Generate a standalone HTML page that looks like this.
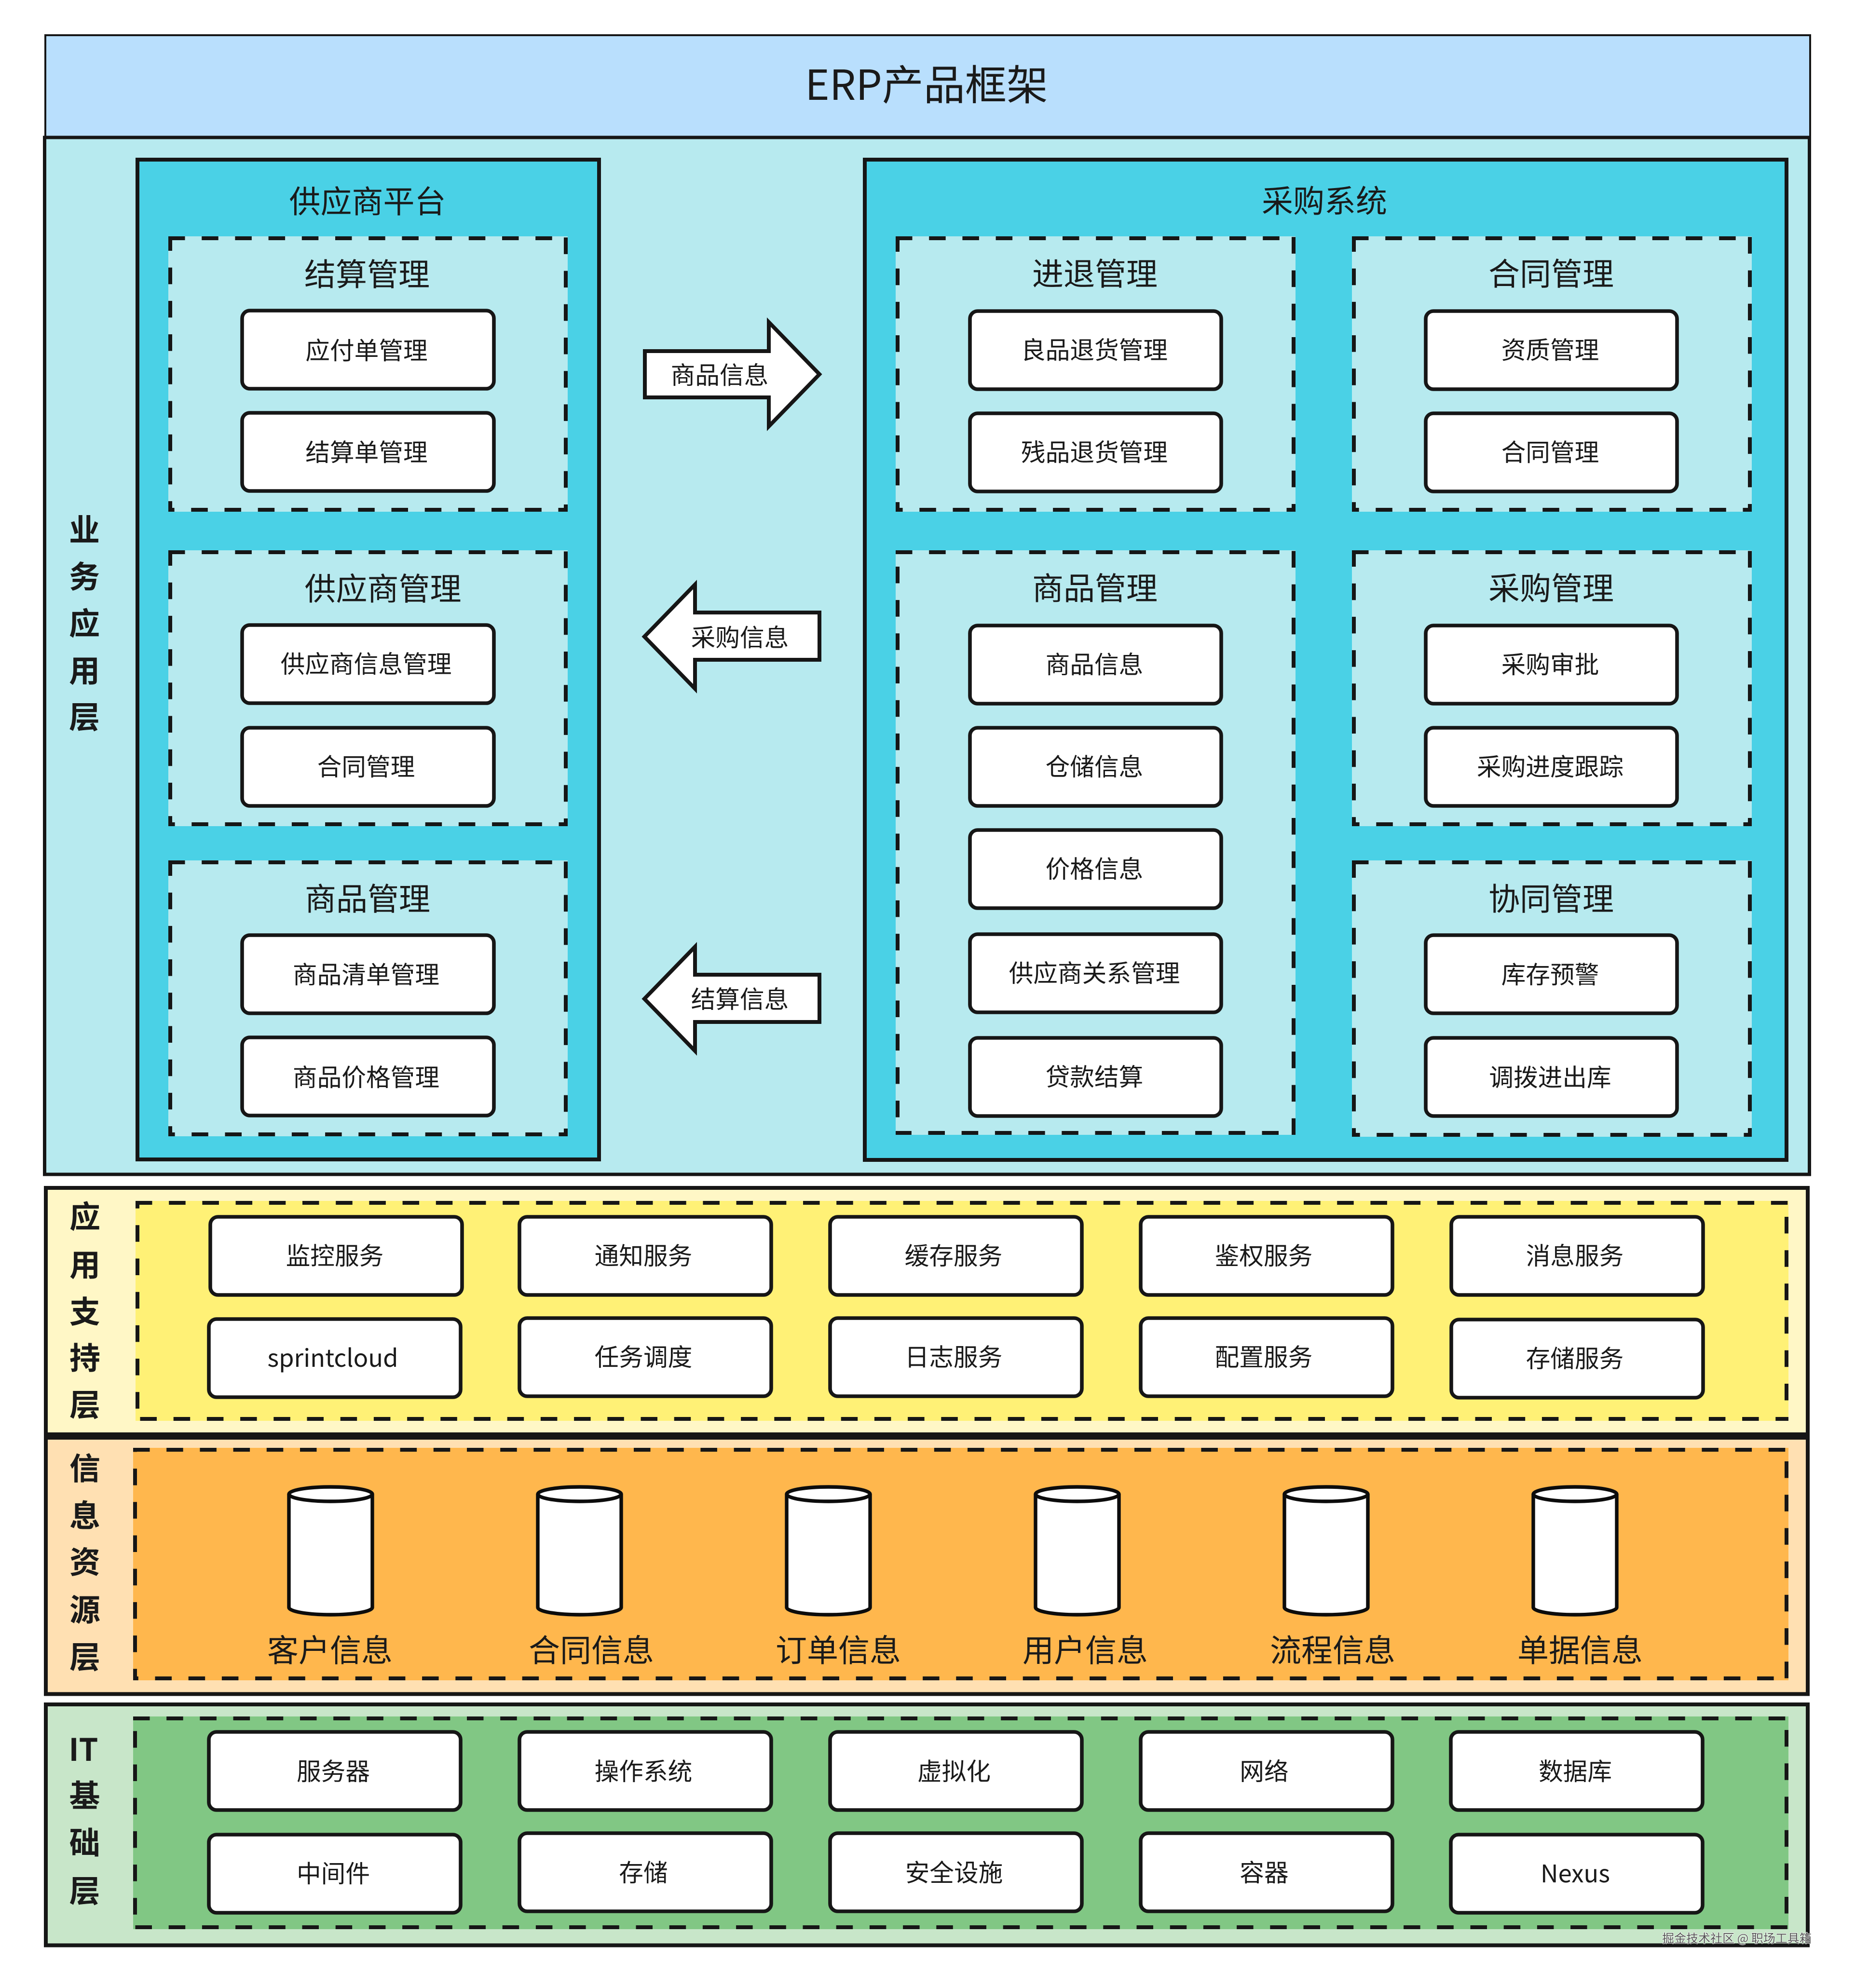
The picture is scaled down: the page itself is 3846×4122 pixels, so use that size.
<!DOCTYPE html>
<html lang="zh">
<head>
<meta charset="utf-8">
<title>ERP产品框架</title>
<style>
html,body{margin:0;padding:0;background:#fff;width:3846px;height:4122px;overflow:hidden}
svg{display:block}
text{font-family:"Noto Sans CJK SC","Liberation Sans",sans-serif;fill:#1a1a1a;text-anchor:middle}
.s{font-size:50.7px}
.m{font-size:65px}
.v{font-size:64px;font-weight:700}
.box{fill:#fff;stroke:#161616;stroke-width:7.6}
.dash{fill:none;stroke:#161616;stroke-width:16;stroke-dasharray:34.5 34.7}
</style>
</head>
<body>
<svg xmlns="http://www.w3.org/2000/svg" width="3846" height="4122" viewBox="0 0 3846 4122">
<defs>
<g id="cyl">
<path d="M599,3098 A86.5,15 0 0 1 772,3098 V3333 A86.5,15 0 0 1 599,3333 Z" fill="#fff" stroke="#0c0c0c" stroke-width="7.4"/>
<path d="M599,3098 A86.5,15 0 0 0 772,3098" fill="none" stroke="#0c0c0c" stroke-width="7.4"/>
</g>
<clipPath id="c1"><rect x="349" y="490" width="828" height="571"/></clipPath>
<clipPath id="c2"><rect x="349" y="1141" width="828" height="572"/></clipPath>
<clipPath id="c3"><rect x="349" y="1784" width="828" height="572"/></clipPath>
<clipPath id="c4"><rect x="1857" y="490" width="829" height="571"/></clipPath>
<clipPath id="c5"><rect x="2803" y="490" width="829" height="571"/></clipPath>
<clipPath id="c6"><rect x="1857" y="1141" width="829" height="1212"/></clipPath>
<clipPath id="c7"><rect x="2803" y="1141" width="829" height="572"/></clipPath>
<clipPath id="c8"><rect x="2803" y="1784" width="829" height="573"/></clipPath>
<clipPath id="c9"><rect x="281" y="2490" width="3427" height="456"/></clipPath>
<clipPath id="c10"><rect x="276" y="3002" width="3432" height="482"/></clipPath>
<clipPath id="c11"><rect x="276" y="3559" width="3432" height="441"/></clipPath>
</defs>

<!-- Title -->
<rect x="94" y="73" width="3659" height="212" fill="#b9dffd" stroke="#161616" stroke-width="4"/>
<text x="1921" y="207" font-size="86">ERP产品框架</text>

<!-- Business layer -->
<rect x="92.5" y="285" width="3659" height="2150" fill="#b7eaef" stroke="#161616" stroke-width="7"/>
<text class="v" x="175" y="1122">业</text>
<text class="v" x="175" y="1219">务</text>
<text class="v" x="175" y="1316">应</text>
<text class="v" x="175" y="1414">用</text>
<text class="v" x="175" y="1510">层</text>

<!-- Supplier platform -->
<rect x="285" y="331" width="957" height="2073" fill="#4ad1e6" stroke="#161616" stroke-width="8"/>
<text class="m" x="762" y="441">供应商平台</text>

<rect x="349" y="490" width="828" height="571" fill="#b7eaef"/>
<rect class="dash" clip-path="url(#c1)" x="349" y="490" width="828" height="571"/>
<text class="m" x="761" y="592">结算管理</text>
<rect class="box" x="502" y="644" width="522" height="162" rx="16"/>
<text class="s" x="760" y="745">应付单管理</text>
<rect class="box" x="502" y="856" width="522" height="162" rx="16"/>
<text class="s" x="760" y="956">结算单管理</text>

<rect x="349" y="1141" width="828" height="572" fill="#b7eaef"/>
<rect class="dash" clip-path="url(#c2)" x="349" y="1141" width="828" height="572"/>
<text class="m" x="794" y="1244">供应商管理</text>
<rect class="box" x="502" y="1296" width="522" height="162" rx="16"/>
<text class="s" x="759" y="1395">供应商信息管理</text>
<rect class="box" x="502" y="1509" width="522" height="162" rx="16"/>
<text class="s" x="759" y="1608">合同管理</text>

<rect x="349" y="1784" width="828" height="572" fill="#b7eaef"/>
<rect class="dash" clip-path="url(#c3)" x="349" y="1784" width="828" height="572"/>
<text class="m" x="762" y="1887">商品管理</text>
<rect class="box" x="502" y="1939" width="522" height="162" rx="16"/>
<text class="s" x="759" y="2039">商品清单管理</text>
<rect class="box" x="502" y="2151" width="522" height="162" rx="16"/>
<text class="s" x="759" y="2252">商品价格管理</text>

<!-- Arrows -->
<polygon points="1337,728 1594,728 1594,668 1699,776 1594,884 1594,824 1337,824" fill="#fff" stroke="#161616" stroke-width="8"/>
<text class="s" x="1492" y="796">商品信息</text>
<polygon points="1336,1320 1441,1212 1441,1270 1699,1270 1699,1368 1441,1368 1441,1428" fill="#fff" stroke="#161616" stroke-width="8"/>
<text class="s" x="1534" y="1340">采购信息</text>
<polygon points="1336,2071 1441,1963 1441,2021 1699,2021 1699,2119 1441,2119 1441,2179" fill="#fff" stroke="#161616" stroke-width="8"/>
<text class="s" x="1534" y="2090">结算信息</text>

<!-- Purchase system -->
<rect x="1793" y="331" width="1911" height="2074" fill="#4ad1e6" stroke="#161616" stroke-width="8"/>
<text class="m" x="2746" y="440">采购系统</text>

<rect x="1857" y="490" width="829" height="571" fill="#b7eaef"/>
<rect class="dash" clip-path="url(#c4)" x="1857" y="490" width="829" height="571"/>
<text class="m" x="2270" y="591">进退管理</text>
<rect class="box" x="2011" y="645" width="521" height="162" rx="16"/>
<text class="s" x="2269" y="744">良品退货管理</text>
<rect class="box" x="2011" y="857" width="521" height="162" rx="16"/>
<text class="s" x="2269" y="956">残品退货管理</text>

<rect x="2803" y="490" width="829" height="571" fill="#b7eaef"/>
<rect class="dash" clip-path="url(#c5)" x="2803" y="490" width="829" height="571"/>
<text class="m" x="3216" y="591">合同管理</text>
<rect class="box" x="2956" y="645" width="521" height="162" rx="16"/>
<text class="s" x="3214" y="744">资质管理</text>
<rect class="box" x="2956" y="857" width="521" height="162" rx="16"/>
<text class="s" x="3214" y="956">合同管理</text>

<rect x="1857" y="1141" width="829" height="1212" fill="#b7eaef"/>
<rect class="dash" clip-path="url(#c6)" x="1857" y="1141" width="829" height="1212"/>
<text class="m" x="2270" y="1243">商品管理</text>
<rect class="box" x="2011" y="1297" width="521" height="162" rx="16"/>
<text class="s" x="2269" y="1396">商品信息</text>
<rect class="box" x="2011" y="1509" width="521" height="162" rx="16"/>
<text class="s" x="2269" y="1608">仓储信息</text>
<rect class="box" x="2011" y="1721" width="521" height="162" rx="16"/>
<text class="s" x="2269" y="1820">价格信息</text>
<rect class="box" x="2011" y="1937" width="521" height="162" rx="16"/>
<text class="s" x="2269" y="2036">供应商关系管理</text>
<rect class="box" x="2011" y="2152" width="521" height="162" rx="16"/>
<text class="s" x="2269" y="2251">贷款结算</text>

<rect x="2803" y="1141" width="829" height="572" fill="#b7eaef"/>
<rect class="dash" clip-path="url(#c7)" x="2803" y="1141" width="829" height="572"/>
<text class="m" x="3216" y="1243">采购管理</text>
<rect class="box" x="2956" y="1297" width="521" height="162" rx="16"/>
<text class="s" x="3214" y="1396">采购审批</text>
<rect class="box" x="2956" y="1509" width="521" height="162" rx="16"/>
<text class="s" x="3214" y="1608">采购进度跟踪</text>

<rect x="2803" y="1784" width="829" height="573" fill="#b7eaef"/>
<rect class="dash" clip-path="url(#c8)" x="2803" y="1784" width="829" height="573"/>
<text class="m" x="3216" y="1887">协同管理</text>
<rect class="box" x="2956" y="1939" width="521" height="162" rx="16"/>
<text class="s" x="3214" y="2039">库存预警</text>
<rect class="box" x="2956" y="2152" width="521" height="162" rx="16"/>
<text class="s" x="3214" y="2252">调拨进出库</text>

<!-- App support layer -->
<rect x="95" y="2463" width="3653" height="511" fill="#fff7c6" stroke="#161616" stroke-width="8"/>
<text class="v" x="176" y="2546">应</text>
<text class="v" x="176" y="2646">用</text>
<text class="v" x="176" y="2743">支</text>
<text class="v" x="176" y="2839">持</text>
<text class="v" x="176" y="2936">层</text>
<rect x="281" y="2490" width="3427" height="456" fill="#fff176"/>
<rect class="dash" clip-path="url(#c9)" x="281" y="2490" width="3427" height="456"/>

<rect class="box" x="436" y="2523" width="522" height="162" rx="16"/>
<text class="s" x="694" y="2622">监控服务</text>
<rect class="box" x="1077" y="2523" width="522" height="162" rx="16"/>
<text class="s" x="1334" y="2622">通知服务</text>
<rect class="box" x="1721" y="2523" width="522" height="162" rx="16"/>
<text class="s" x="1977" y="2622">缓存服务</text>
<rect class="box" x="2365" y="2523" width="522" height="162" rx="16"/>
<text class="s" x="2620" y="2622">鉴权服务</text>
<rect class="box" x="3009" y="2523" width="522" height="162" rx="16"/>
<text class="s" x="3265" y="2622">消息服务</text>

<rect class="box" x="433" y="2735" width="522" height="162" rx="16"/>
<text class="s" x="690" y="2834">sprintcloud</text>
<rect class="box" x="1077" y="2733" width="522" height="162" rx="16"/>
<text class="s" x="1334" y="2832">任务调度</text>
<rect class="box" x="1721" y="2733" width="522" height="162" rx="16"/>
<text class="s" x="1977" y="2832">日志服务</text>
<rect class="box" x="2365" y="2733" width="522" height="162" rx="16"/>
<text class="s" x="2620" y="2832">配置服务</text>
<rect class="box" x="3009" y="2736" width="522" height="162" rx="16"/>
<text class="s" x="3265" y="2835">存储服务</text>

<!-- Info resource layer -->
<rect x="95" y="2981" width="3653" height="531.5" fill="#ffe0b2" stroke="#161616" stroke-width="8"/>
<text class="v" x="176" y="3068">信</text>
<text class="v" x="176" y="3166">息</text>
<text class="v" x="176" y="3262">资</text>
<text class="v" x="176" y="3361">源</text>
<text class="v" x="176" y="3459">层</text>
<rect x="276" y="3002" width="3432" height="482" fill="#ffb74d"/>
<rect class="dash" clip-path="url(#c10)" x="276" y="3002" width="3432" height="482"/>
<use href="#cyl"/>
<use href="#cyl" x="516"/>
<use href="#cyl" x="1032"/>
<use href="#cyl" x="1548"/>
<use href="#cyl" x="2064"/>
<use href="#cyl" x="2580"/>
<text class="m" x="684" y="3445">客户信息</text>
<text class="m" x="1226" y="3445">合同信息</text>
<text class="m" x="1738" y="3445">订单信息</text>
<text class="m" x="2250" y="3445">用户信息</text>
<text class="m" x="2763" y="3445">流程信息</text>
<text class="m" x="3276" y="3445">单据信息</text>

<!-- IT layer -->
<rect x="95" y="3534" width="3653" height="499.5" fill="#c8e6c9" stroke="#161616" stroke-width="8"/>
<text class="v" x="173" y="3651">IT</text>
<text class="v" x="175.5" y="3746.5">基</text>
<text class="v" x="175.5" y="3844">础</text>
<text class="v" x="175.5" y="3944">层</text>
<rect x="276" y="3559" width="3432" height="441" fill="#81c784"/>
<rect class="dash" clip-path="url(#c11)" x="276" y="3559" width="3432" height="441"/>

<rect class="box" x="433" y="3591" width="522" height="162" rx="16"/>
<text class="s" x="691" y="3691">服务器</text>
<rect class="box" x="1077" y="3591" width="522" height="162" rx="16"/>
<text class="s" x="1334" y="3691">操作系统</text>
<rect class="box" x="1721" y="3591" width="522" height="162" rx="16"/>
<text class="s" x="1978" y="3691">虚拟化</text>
<rect class="box" x="2365" y="3591" width="522" height="162" rx="16"/>
<text class="s" x="2621" y="3691">网络</text>
<rect class="box" x="3008" y="3591" width="522" height="162" rx="16"/>
<text class="s" x="3266" y="3691">数据库</text>

<rect class="box" x="433" y="3804" width="522" height="162" rx="16"/>
<text class="s" x="691" y="3903">中间件</text>
<rect class="box" x="1077" y="3801" width="522" height="162" rx="16"/>
<text class="s" x="1334" y="3901">存储</text>
<rect class="box" x="1721" y="3801" width="522" height="162" rx="16"/>
<text class="s" x="1978" y="3901">安全设施</text>
<rect class="box" x="2365" y="3801" width="522" height="162" rx="16"/>
<text class="s" x="2621" y="3901">容器</text>
<rect class="box" x="3008" y="3804" width="522" height="162" rx="16"/>
<text class="s" x="3266" y="3903">Nexus</text>

<!-- Watermark -->
<text x="3601" y="4028" font-size="25" style="fill:#555;stroke:#fff;stroke-width:1.5px;paint-order:stroke">掘金技术社区 @ 职场工具箱</text>
</svg>
</body>
</html>
